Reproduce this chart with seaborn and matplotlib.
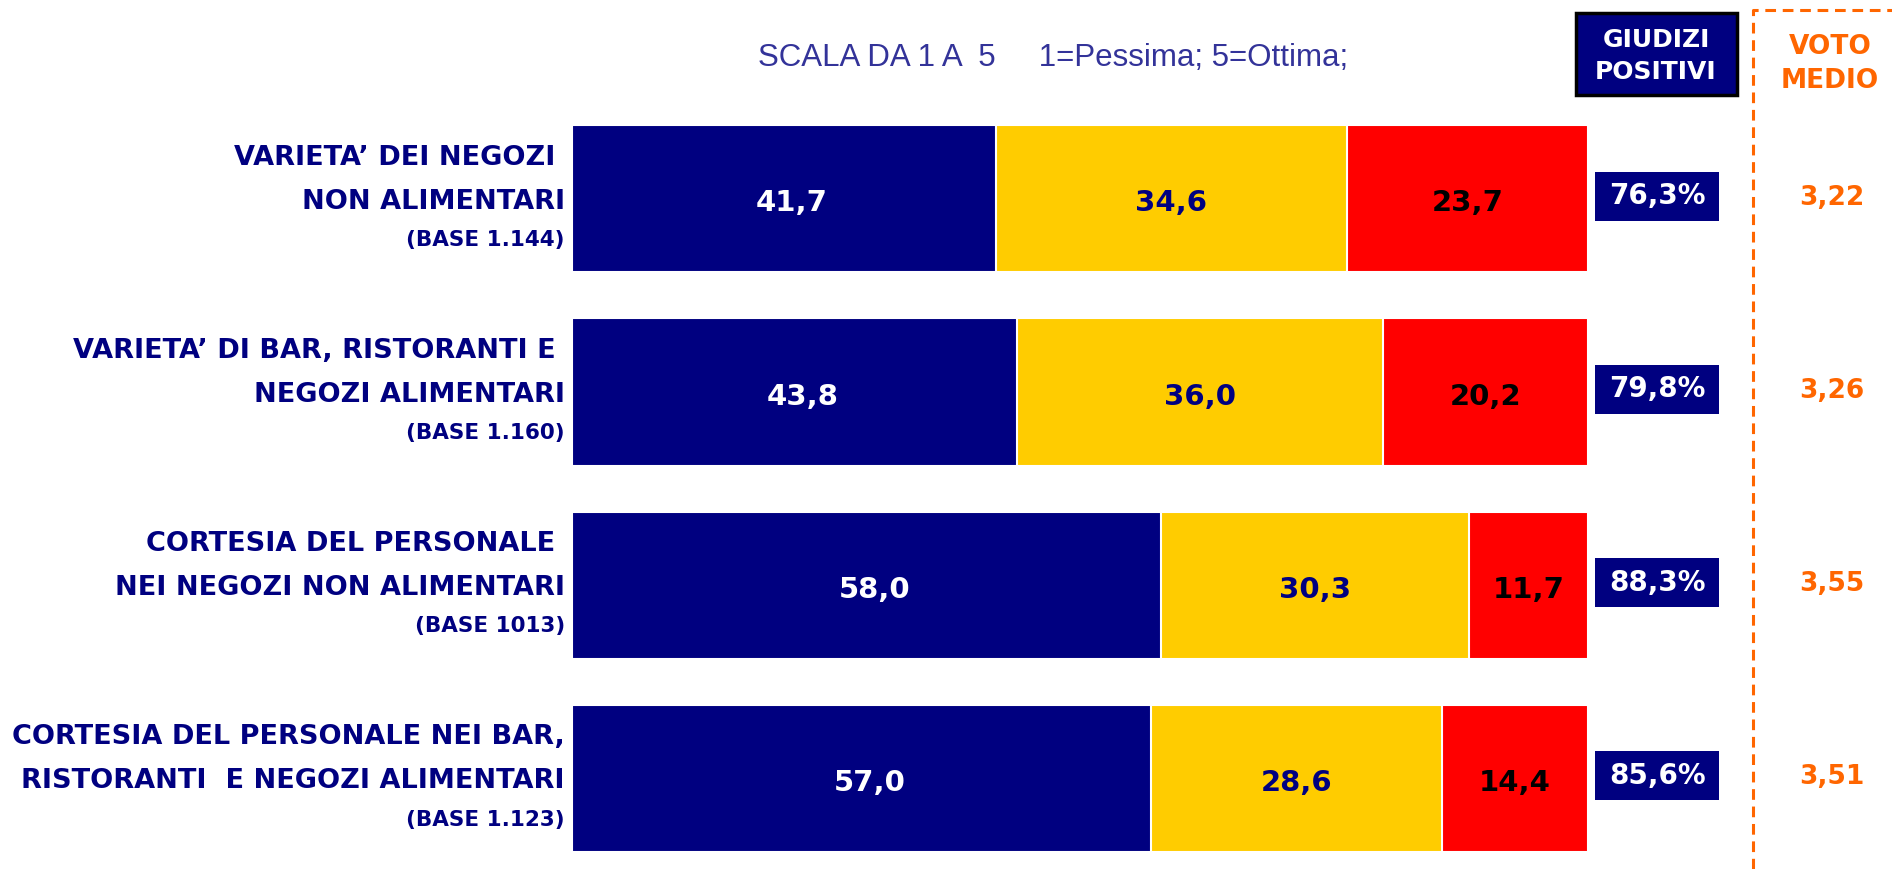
import numpy as np
import pandas as pd
import matplotlib.pyplot as plt
import seaborn as sns
from matplotlib.patches import Rectangle
from matplotlib.lines import Line2D

# -------------------------------
# Dati
# -------------------------------
categorie = ["Varieta negozi non alimentari",
             "Varieta bar ristoranti alimentari",
             "Cortesia negozi non alimentari",
             "Cortesia bar ristoranti alimentari"]

righe_1 = ["VARIETA\u2019 DEI NEGOZI ",
           "VARIETA\u2019 DI BAR, RISTORANTI E ",
           "CORTESIA DEL PERSONALE ",
           "CORTESIA DEL PERSONALE NEI BAR,"]
righe_2 = ["NON ALIMENTARI",
           "NEGOZI ALIMENTARI",
           "NEI NEGOZI NON ALIMENTARI",
           "RISTORANTI  E NEGOZI ALIMENTARI"]
basi = ["(BASE 1.144)", "(BASE 1.160)", "(BASE 1013)", "(BASE 1.123)"]

voti_alti = [41.7, 43.8, 58.0, 57.0]      # blu
voti_medi = [34.6, 36.0, 30.3, 28.6]      # giallo
voti_bassi = [23.7, 20.2, 11.7, 14.4]     # rosso

giudizi_positivi = [76.3, 79.8, 88.3, 85.6]
voto_medio = [3.22, 3.26, 3.55, 3.51]

BLU = "#000080"
GIALLO = "#FFCC00"
ROSSO = "#FF0000"
ARANCIO = "#FF6600"


def virgola(v, dec=1):
    return f"{v:.{dec}f}".replace(".", ",")


df = pd.DataFrame({
    "categoria": categorie,
    "alti": voti_alti,
    "medi": voti_medi,
    "bassi": voti_bassi,
})
df["cum_medi"] = df["alti"] + df["medi"]
df["cum_bassi"] = df["cum_medi"] + df["bassi"]

# -------------------------------
# Grafico
# -------------------------------
sns.set_style("white")
plt.rcParams["font.family"] = ["DejaVu Sans"]

W, H = 1892, 869
fig = plt.figure(figsize=(W / 100, H / 100), dpi=100)

top_px = 102
ax = fig.add_axes([572 / W, 0, 1016 / W, (H - top_px) / H])

larg = 0.762
# barre impilate: dal totale al primo segmento
for col, colore in [("cum_bassi", ROSSO), ("cum_medi", GIALLO), ("alti", BLU)]:
    sns.barplot(data=df, x=col, y="categoria", orient="h", color=colore,
                saturation=1, width=larg, edgecolor="white", linewidth=1.5, ax=ax)

ax.set_xlim(0, 100)
ax.set_ylim(3 + (H - 778.5) / 193, -0.5)
ax.axis("off")

dy = 0.025  # etichette dei valori un po' sotto il centro
for i in range(len(categorie)):
    # valori dentro le barre
    ax.text(voti_alti[i] / 2 + 0.8, i + dy, virgola(voti_alti[i]), ha="center",
            va="center", color="white", fontsize=21, fontweight="bold")
    ax.text(voti_alti[i] + voti_medi[i] / 2, i + dy, virgola(voti_medi[i]), ha="center",
            va="center", color=BLU, fontsize=21, fontweight="bold")
    ax.text(df["cum_medi"][i] + voti_bassi[i] / 2, i + dy, virgola(voti_bassi[i]),
            ha="center", va="center", color="black", fontsize=21, fontweight="bold")

    # etichette a sinistra
    ax.text(-0.7, i - 0.212, righe_1[i], ha="right", va="center", color=BLU,
            fontsize=19.5, fontweight="bold", clip_on=False)
    ax.text(-0.7, i + 0.016, righe_2[i], ha="right", va="center", color=BLU,
            fontsize=19.5, fontweight="bold", clip_on=False)
    ax.text(-0.7, i + 0.213, basi[i], ha="right", va="center", color=BLU,
            fontsize=15.5, fontweight="bold", clip_on=False)

    # giudizi positivi
    ax.add_patch(Rectangle((100.7, i - 0.14), 12.2, 0.254, facecolor=BLU,
                           edgecolor="none", clip_on=False))
    ax.text(106.8, i - 0.013, virgola(giudizi_positivi[i]) + "%", ha="center",
            va="center", color="white", fontsize=20, fontweight="bold", clip_on=False)

    # voto medio
    ax.text(124.0, i - 0.005, virgola(voto_medio[i], 2), ha="center", va="center",
            color=ARANCIO, fontsize=19, fontweight="bold", clip_on=False)

# titolo scala
fig.text(1053 / W, 1 - 58 / H, "SCALA DA 1 A  5     1=Pessima; 5=Ottima;",
         ha="center", va="center", color="#333399", fontsize=22.5,
         family=["Liberation Sans Narrow", "Liberation Sans", "DejaVu Sans"])

# riquadro intestazione giudizi positivi
fig.add_artist(Rectangle((1576 / W, 1 - 95 / H), 161 / W, 82 / H,
                         transform=fig.transFigure, facecolor=BLU,
                         edgecolor="black", linewidth=2.5))
fig.text(1656 / W, 1 - 40 / H, "GIUDIZI", ha="center", va="center",
         color="white", fontsize=18, fontweight="bold")
fig.text(1656 / W, 1 - 72 / H, "POSITIVI", ha="center", va="center",
         color="white", fontsize=18, fontweight="bold")

# intestazione voto medio
fig.text(1830 / W, 1 - 47 / H, "VOTO", ha="center", va="center",
         color=ARANCIO, fontsize=19, fontweight="bold")
fig.text(1830 / W, 1 - 81 / H, "MEDIO", ha="center", va="center",
         color=ARANCIO, fontsize=19, fontweight="bold")

# linea tratteggiata arancio
fig.add_artist(Line2D([1753 / W, 1753 / W, 1], [0, 1 - 10 / H, 1 - 10 / H],
                      transform=fig.transFigure, color=ARANCIO, linewidth=2.2,
                      linestyle=(0, (3.5, 2.2))))

fig.savefig("out.png", dpi=100, facecolor="white")
